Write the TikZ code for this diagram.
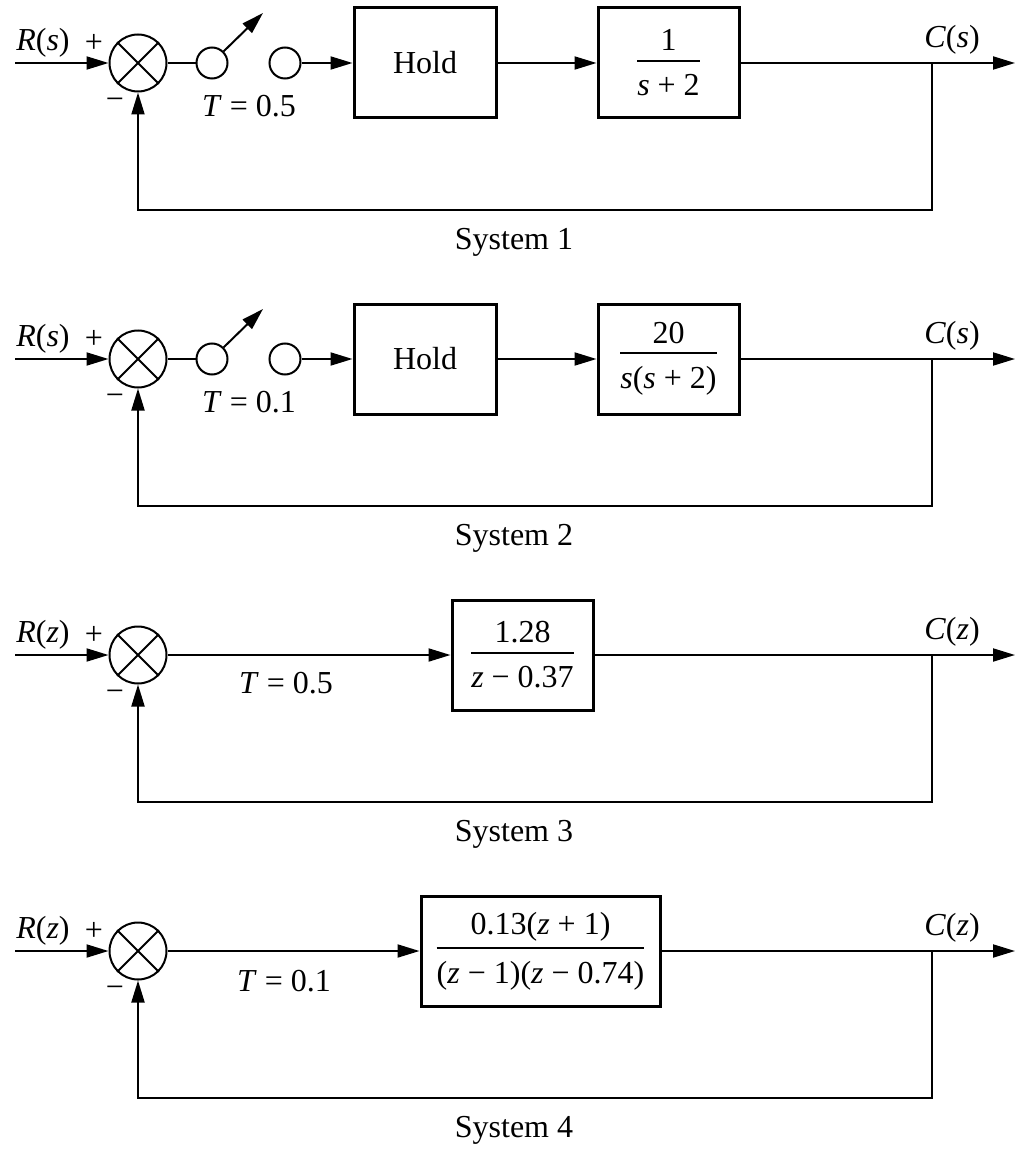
\documentclass[tikz,border=0pt]{standalone}
\usepackage{fontspec}
\setmainfont{Liberation Serif}
\usepackage{amsmath}
\usetikzlibrary{arrows.meta}
\newcommand{\tfr}[2]{$\genfrac{}{}{1pt}{0}{\raisebox{-2.5pt}{#1}}{\raisebox{-1.5pt}{#2}}$}
\begin{document}
\begin{tikzpicture}[x=0.5pt,y=-0.5pt,
  every node/.style={font=\fontsize{16}{19}\selectfont},
  wire/.style={line width=1pt},
  arr/.style={wire,-{Triangle[length=11pt,width=6.5pt]}},
  sumnode/.style={circle,draw,line width=1pt,minimum size=28.5pt,inner sep=0pt},
  swnode/.style={circle,draw,line width=1pt,minimum size=15.5pt,inner sep=0pt},
  blk/.style={draw,line width=1.5pt,inner sep=0pt,minimum height=55pt},
  lbl/.style={inner sep=0pt}]
\useasboundingbox (0,0) rectangle (1015,1150);

% ---------------- System 1 ----------------
\begin{scope}[shift={(0,0)}]
  \node[sumnode] (s1sum) at (138,63) {};
  \draw[wire] (s1sum.45) -- (s1sum.225) (s1sum.135) -- (s1sum.315);
  \coordinate (s1in) at (15,63);
  \draw[arr] (s1in) -- (s1sum.west);
  \node[lbl] (s1R) at (43,43) {\textit{R}(\textit{s})};
  \node[lbl] (s1p) at (94,43) {+};
  \node[lbl] (s1m) at (115,104) {−};
  \node[swnode] (s1a) at (212,63) {};
  \node[swnode] (s1b) at (285,63) {};
  \draw[wire] (s1sum.east) -- (s1a.west);
  \coordinate (s1tip) at (263,13);
  \draw[arr] (s1a.45) -- (s1tip);
  \node[lbl] (s1T) at (249,106) {\textit{T} = 0.5};
  \node[blk,minimum width=71pt] (s1h) at (425,63) {Hold};
  \node[blk,minimum width=70.5pt] (s1g) at (668.5,63) {\tfr{1}{\textit{s} + 2}};
  \draw[arr] (s1b.east) -- (s1h.west);
  \draw[arr] (s1h.east) -- (s1g.west);
  \coordinate (s1out) at (1015,63);
  \coordinate (s1br) at (932,63);
  \coordinate (s1fb) at (932,210);
  \draw[arr] (s1g.east) -- (s1out);
  \draw[arr] (s1br) -- (s1fb) -| (s1sum.south);
  \node[lbl] (s1C) at (952,40) {\textit{C}(\textit{s})};
  \node[lbl] (s1L) at (514,242) {System 1};
\end{scope}

% ---------------- System 2 ----------------
\begin{scope}[shift={(0,296)}]
  \node[sumnode] (s2sum) at (138,63) {};
  \draw[wire] (s2sum.45) -- (s2sum.225) (s2sum.135) -- (s2sum.315);
  \coordinate (s2in) at (15,63);
  \draw[arr] (s2in) -- (s2sum.west);
  \node[lbl] (s2R) at (43,43) {\textit{R}(\textit{s})};
  \node[lbl] (s2p) at (94,43) {+};
  \node[lbl] (s2m) at (115,104) {−};
  \node[swnode] (s2a) at (212,63) {};
  \node[swnode] (s2b) at (285,63) {};
  \draw[wire] (s2sum.east) -- (s2a.west);
  \coordinate (s2tip) at (263,13);
  \draw[arr] (s2a.45) -- (s2tip);
  \node[lbl] (s2T) at (249,106) {\textit{T} = 0.1};
  \node[blk,minimum width=71pt] (s2h) at (425,63) {Hold};
  \node[blk,minimum width=70.5pt] (s2g) at (668.5,63) {\tfr{20}{\textit{s}(\textit{s} + 2)}};
  \draw[arr] (s2b.east) -- (s2h.west);
  \draw[arr] (s2h.east) -- (s2g.west);
  \coordinate (s2out) at (1015,63);
  \coordinate (s2br) at (932,63);
  \coordinate (s2fb) at (932,210);
  \draw[arr] (s2g.east) -- (s2out);
  \draw[arr] (s2br) -- (s2fb) -| (s2sum.south);
  \node[lbl] (s2C) at (952,40) {\textit{C}(\textit{s})};
  \node[lbl] (s2L) at (514,242) {System 2};
\end{scope}

% ---------------- System 3 ----------------
\begin{scope}[shift={(0,592)}]
  \node[sumnode] (s3sum) at (138,63) {};
  \draw[wire] (s3sum.45) -- (s3sum.225) (s3sum.135) -- (s3sum.315);
  \coordinate (s3in) at (15,63);
  \draw[arr] (s3in) -- (s3sum.west);
  \node[lbl] (s3R) at (43,43) {\textit{R}(\textit{z})};
  \node[lbl] (s3p) at (94,43) {+};
  \node[lbl] (s3m) at (115,104) {−};
  \node[lbl] (s3T) at (286,91) {\textit{T} = 0.5};
  \node[blk,minimum width=70.5pt] (s3g) at (522.5,63) {\tfr{1.28}{\textit{z} − 0.37}};
  \draw[arr] (s3sum.east) -- (s3g.west);
  \coordinate (s3out) at (1015,63);
  \coordinate (s3br) at (932,63);
  \coordinate (s3fb) at (932,210);
  \draw[arr] (s3g.east) -- (s3out);
  \draw[arr] (s3br) -- (s3fb) -| (s3sum.south);
  \node[lbl] (s3C) at (952,40) {\textit{C}(\textit{z})};
  \node[lbl] (s3L) at (514,242) {System 3};
\end{scope}

% ---------------- System 4 ----------------
\begin{scope}[shift={(0,888)}]
  \node[sumnode] (s4sum) at (138,63) {};
  \draw[wire] (s4sum.45) -- (s4sum.225) (s4sum.135) -- (s4sum.315);
  \coordinate (s4in) at (15,63);
  \draw[arr] (s4in) -- (s4sum.west);
  \node[lbl] (s4R) at (43,43) {\textit{R}(\textit{z})};
  \node[lbl] (s4p) at (94,43) {+};
  \node[lbl] (s4m) at (115,104) {−};
  \node[lbl] (s4T) at (284,93) {\textit{T} = 0.1};
  \node[blk,minimum width=119.5pt] (s4g) at (540.5,63) {\tfr{0.13(\textit{z} + 1)}{(\textit{z} − 1)(\textit{z} − 0.74)}};
  \draw[arr] (s4sum.east) -- (s4g.west);
  \coordinate (s4out) at (1015,63);
  \coordinate (s4br) at (932,63);
  \coordinate (s4fb) at (932,210);
  \draw[arr] (s4g.east) -- (s4out);
  \draw[arr] (s4br) -- (s4fb) -| (s4sum.south);
  \node[lbl] (s4C) at (952,40) {\textit{C}(\textit{z})};
  \node[lbl] (s4L) at (514,242) {System 4};
\end{scope}
\end{tikzpicture}
\end{document}
